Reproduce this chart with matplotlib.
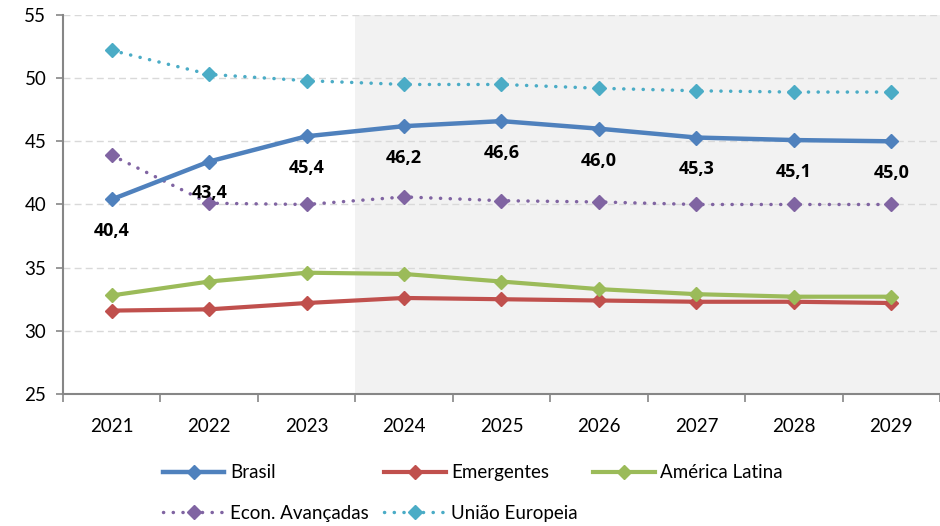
import matplotlib.pyplot as plt

plt.rcParams['font.family'] = ['Lato', 'DejaVu Sans']

years = ['2021', '2022', '2023', '2024', '2025', '2026', '2027', '2028', '2029']

brasil = [40.4, 43.4, 45.4, 46.2, 46.6, 46.0, 45.3, 45.1, 45.0]
emergentes = [31.6, 31.7, 32.2, 32.6, 32.5, 32.4, 32.3, 32.3, 32.2]
america_latina = [32.8, 33.9, 34.6, 34.5, 33.9, 33.3, 32.9, 32.7, 32.7]
econ_avancadas = [43.9, 40.1, 40.0, 40.6, 40.3, 40.2, 40.0, 40.0, 40.0]
uniao_europeia = [52.2, 50.3, 49.8, 49.5, 49.5, 49.2, 49.0, 48.9, 48.9]

projection_start = 3  # first projected year (2024)

c_br = '#4F81BD'
c_em = '#C0504D'
c_al = '#9BBB59'
c_ea = '#8064A2'
c_ue = '#4BACC6'

fig = plt.figure(figsize=(9.4, 5.26), dpi=100)
ax = fig.add_axes([0.067, 0.251, 0.933, 0.7205])

x = list(range(len(years)))

# shaded projection area
ax.axvspan(projection_start - 0.5, len(years), color='#F2F2F2', zorder=0, lw=0)

dots = (0, (0.05, 2.75))
ax.plot(x, econ_avancadas, color=c_ea, lw=2.5, ls=dots, dash_capstyle='round',
        marker='D', ms=7, label='Econ. Avançadas', zorder=3)
ax.plot(x, uniao_europeia, color=c_ue, lw=2.5, ls=dots, dash_capstyle='round',
        marker='D', ms=7, label='União Europeia', zorder=3)
ax.plot(x, emergentes, color=c_em, lw=3, marker='D', ms=7, label='Emergentes', zorder=4)
ax.plot(x, america_latina, color=c_al, lw=3, marker='D', ms=7, label='América Latina', zorder=4)
ax.plot(x, brasil, color=c_br, lw=3.2, marker='D', ms=7.5, label='Brasil', zorder=5)

for xi, v in zip(x, brasil):
    ax.annotate(f'{v:.1f}'.replace('.', ','), (xi, v), xytext=(0, -23),
                textcoords='offset points', ha='center', va='center',
                fontsize=13, fontweight='bold', family=['Open Sans', 'DejaVu Sans'],
                color='black', zorder=6)

ax.set_ylim(25, 55)
ax.set_yticks(range(25, 56, 5))
ax.set_xlim(-0.5, 8.45)
ax.set_xticks([i + 0.5 for i in range(-1, len(years))], minor=False)
ax.set_xticklabels([])
ax.set_xticks(x, minor=True)
ax.set_xticklabels(years, minor=True)
ax.tick_params(axis='x', which='major', length=6, color='#868686', width=1.2)
ax.tick_params(axis='x', which='minor', length=0, pad=17, labelsize=13.5)
ax.tick_params(axis='y', length=5, color='#868686', width=1.2, labelsize=13.5, pad=7)

ax.grid(axis='y', color='#D9D9D9', ls=(0, (5, 3)), lw=1)
ax.set_axisbelow(True)
for s in ['top', 'right']:
    ax.spines[s].set_visible(False)
for s in ['left', 'bottom']:
    ax.spines[s].set_color('#868686')
    ax.spines[s].set_linewidth(1.5)

handles, labels = ax.get_legend_handles_labels()
order = ['Brasil', 'Econ. Avançadas', 'Emergentes', 'União Europeia', 'América Latina']
hmap = dict(zip(labels, handles))
fig.legend([hmap[k] for k in order], order, ncol=3, loc='lower left',
           bbox_to_anchor=(0.155, -0.024), frameon=False, fontsize=13.5,
           handlelength=3.3, handletextpad=0.3, columnspacing=0.8,
           labelspacing=1.25)

fig.savefig('out.png', dpi=100)
